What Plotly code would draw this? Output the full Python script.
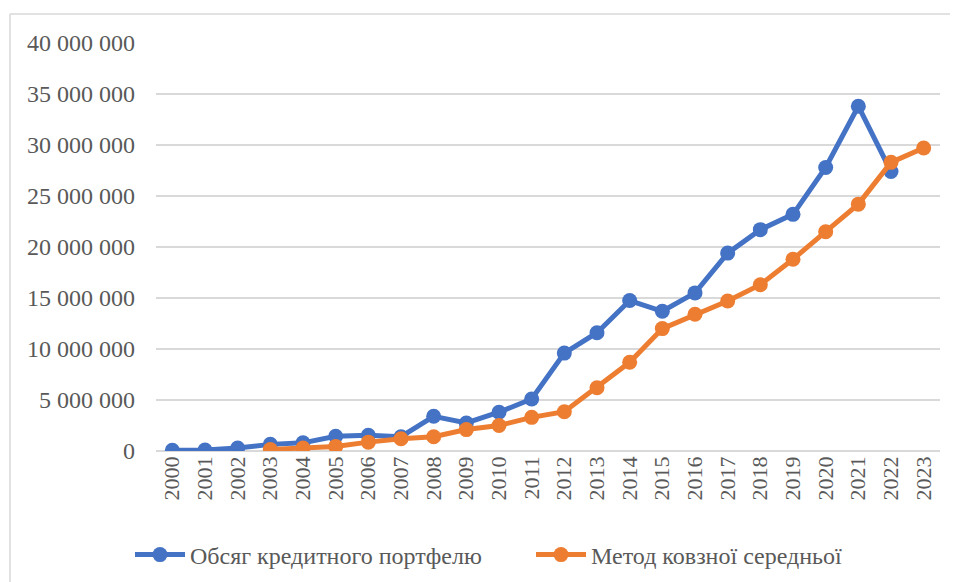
import plotly.graph_objects as go

years = [str(y) for y in range(2000, 2024)]
portfolio = [0.08, 0.1, 0.3, 0.65, 0.8, 1.45, 1.55, 1.4, 3.4, 2.75, 3.8, 5.1,
             9.6, 11.6, 14.75, 13.7, 15.5, 19.4, 21.7, 23.2, 27.8, 33.8, 27.4]
portfolio = [v * 1e6 for v in portfolio]
ma_years = years[3:]
moving_avg = [0.15, 0.3, 0.45, 0.87, 1.2, 1.4, 2.1, 2.5, 3.3, 3.85, 6.2, 8.7,
              12.0, 13.4, 14.7, 16.3, 18.8, 21.5, 24.2, 28.3, 29.7]
moving_avg = [v * 1e6 for v in moving_avg]
y_ticks = [0, 5e6, 10e6, 15e6, 20e6, 25e6, 30e6, 35e6, 40e6]
y_tick_labels = ["0", "5 000 000", "10 000 000", "15 000 000", "20 000 000",
                 "25 000 000", "30 000 000", "35 000 000", "40 000 000"]

FONT = "'Times New Roman', 'Liberation Serif', Tinos, 'DejaVu Serif', serif"
TXT = "#595959"

W, H = 950, 574
L, R, T, B = 148, 18, 35, 131
PW = W - L - R
PH = H - T - B

fig = go.Figure()
fig.add_trace(go.Scatter(x=years[:len(portfolio)], y=portfolio, mode="lines+markers",
                         name="Обсяг кредитного портфелю",
                         line=dict(color="#4472C4", width=5),
                         marker=dict(color="#4472C4", size=15)))
fig.add_trace(go.Scatter(x=ma_years, y=moving_avg, mode="lines+markers",
                         name="Метод ковзної середньої",
                         line=dict(color="#ED7D31", width=5),
                         marker=dict(color="#ED7D31", size=15)))

fx = (2 - L) / PW
fy = (H - B - 6) / PH

fig.update_layout(
    width=W, height=H,
    margin=dict(l=L, r=R, t=T, b=B, autoexpand=False),
    paper_bgcolor="white", plot_bgcolor="white",
    font=dict(family=FONT, size=23, color=TXT),
    showlegend=True,
    legend=dict(orientation="h", x=(122 - L) / PW, xanchor="left",
                y=-(555 - 8 - (H - B)) / PH, yanchor="middle",
                font=dict(family=FONT, size=24, color=TXT), itemwidth=50,
                entrywidth=336, entrywidthmode="pixels",
                traceorder="normal"),
    xaxis=dict(type="category", categoryorder="array", categoryarray=years,
               range=[-0.5, 23.5], tickangle=-90, showgrid=False, zeroline=False,
               showline=False, ticks="", automargin=False,
               tickfont=dict(family=FONT, size=22, color=TXT)),
    yaxis=dict(range=[0, 40e6], tickvals=y_ticks, ticktext=y_tick_labels,
               showgrid=True, gridcolor="#D9D9D9", gridwidth=1.5, zeroline=True,
               zerolinecolor="#D9D9D9", zerolinewidth=1.5, showline=False, ticks="",
               ticklabelstandoff=20, automargin=False,
               tickfont=dict(family=FONT, size=24, color=TXT)),
    shapes=[
        dict(type="line", xref="paper", yref="paper", x0=fx, x1=1.2,
             y0=fy, y1=fy, line=dict(color="#D9D9D9", width=1.5)),
        dict(type="line", xref="paper", yref="paper", x0=fx, x1=fx,
             y0=fy, y1=-0.5, line=dict(color="#D9D9D9", width=1.5)),
    ],
)

fig.write_html("out.html")
